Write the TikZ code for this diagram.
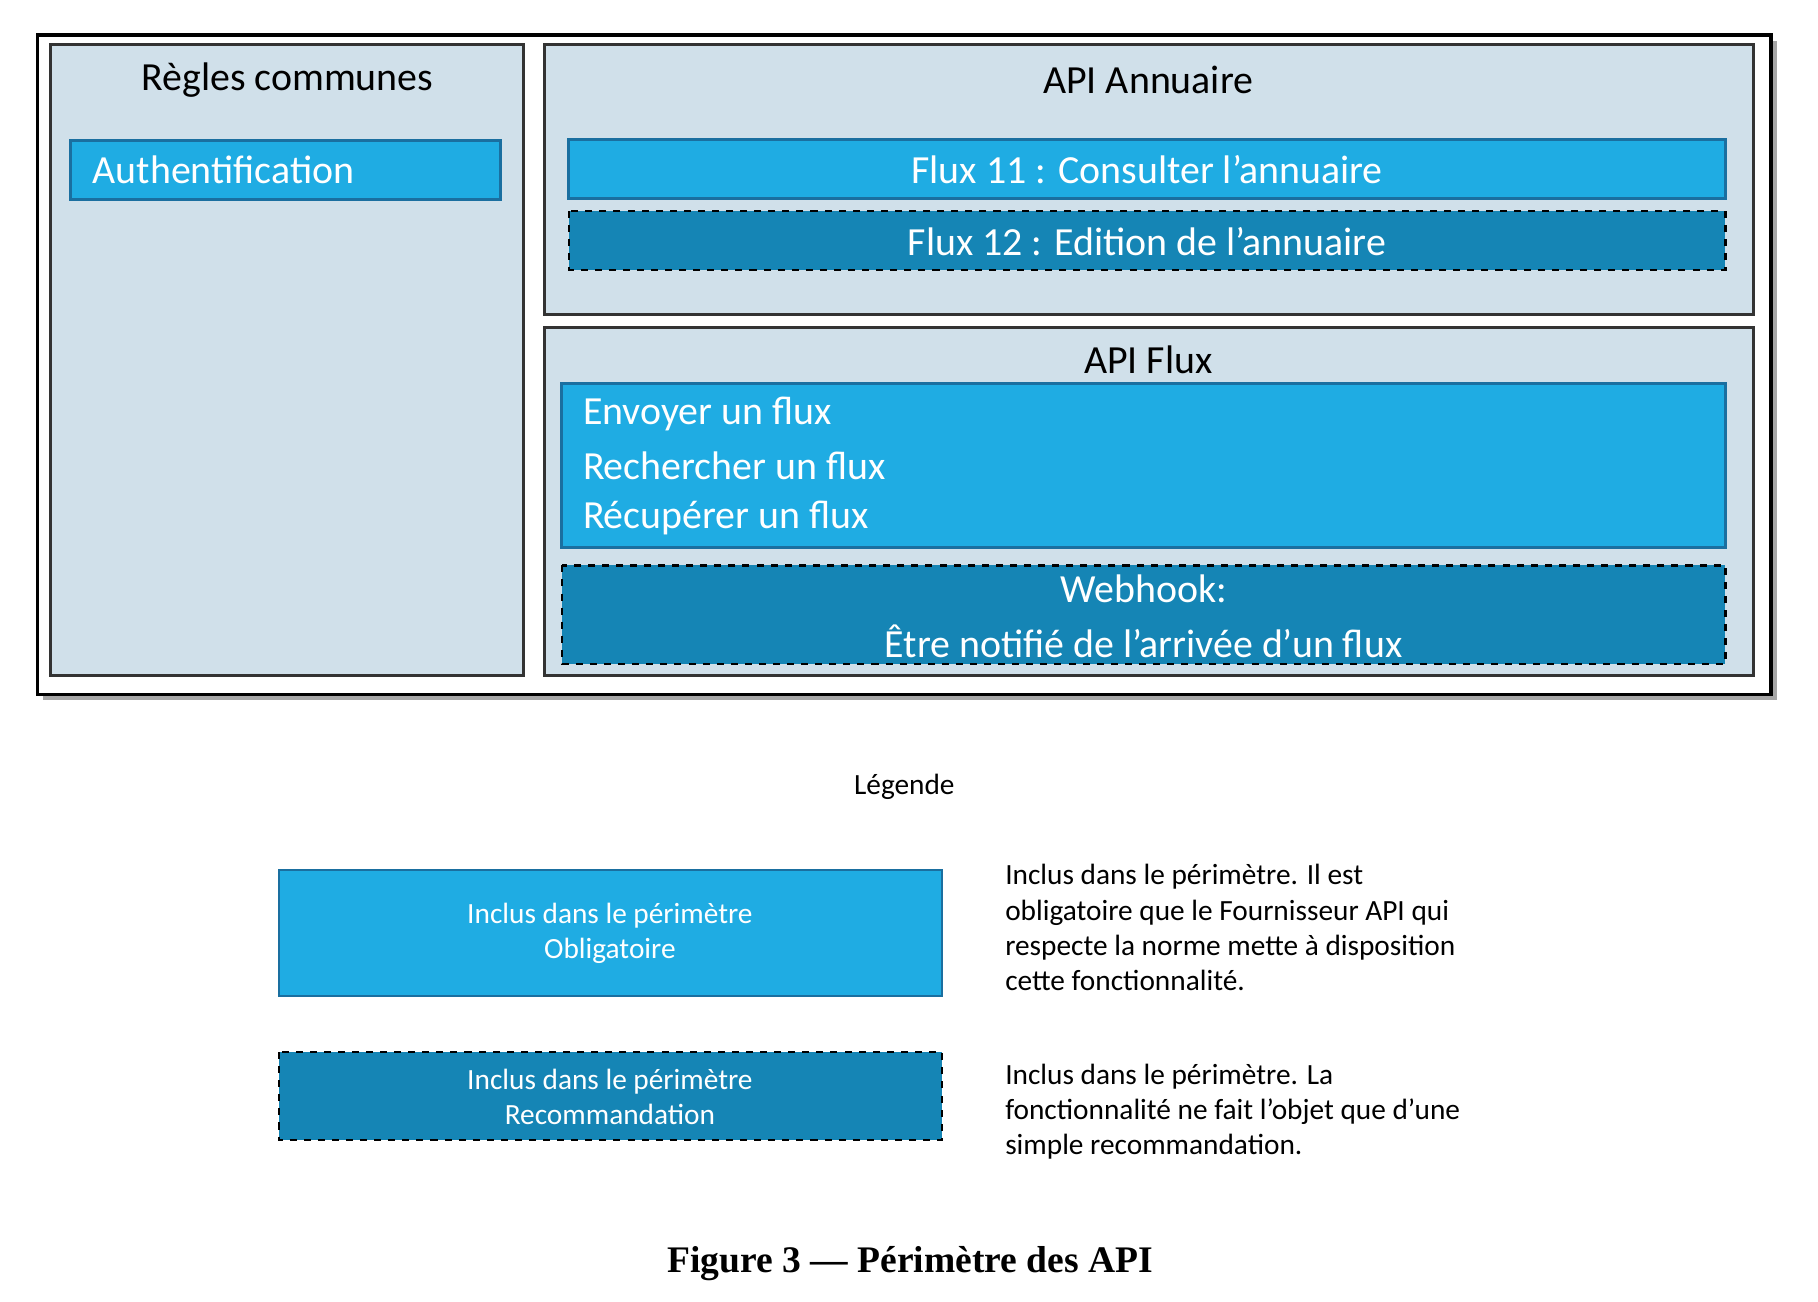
\documentclass[tikz,border=0pt]{standalone}
\usepackage{fontspec}
\setmainfont{Carlito}
\newfontfamily\capfont{Liberation Serif}
\definecolor{panel}{HTML}{D0E0EA}
\definecolor{mand}{HTML}{1FACE3}
\definecolor{reco}{HTML}{1585B5}
\definecolor{edge}{HTML}{1A6FA0}
\begin{document}
\begin{tikzpicture}[x=0.5pt,y=-0.5pt,
 pan/.style={draw=black!80,line width=1.2pt,fill=panel},
 mbox/.style={draw=edge,line width=1.2pt,fill=mand},
 rbox/.style={draw=black,dashed,line width=1pt,fill=reco},
 big/.style={font=\fontsize{17}{20}\selectfont},
 wt/.style={big,text=white},
 leg/.style={font=\fontsize{12.5}{15}\selectfont},
 legw/.style={leg,text=white,align=center}]
\useasboundingbox (0,0) rectangle (1550,1110);
\fill[black!35] (37,35) rectangle (1515,597);
\draw[line width=1.6pt,fill=white] (32,30) rectangle (1510,592);
\draw[pan] (43,38) rectangle (446,576);
\node[big] (t1) at (245,68) {Règles communes};
\draw[mbox] (60,120) rectangle (427,170);
\node[wt,anchor=west] (auth) at (72,145) {Authentification};
\draw[pan] (464,38) rectangle (1495,268);
\node[big] (t2) at (979,68) {API Annuaire};
\draw[mbox] (485,119) rectangle (1471,169);
\node[wt] (f11) at (978,145) {Flux 11 : Consulter l’annuaire};
\draw[rbox] (485,180) rectangle (1471,230);
\node[wt] (f12) at (978,206) {Flux 12 : Edition de l’annuaire};
\draw[pan] (464,279) rectangle (1495,576);
\node[big] (t3) at (979,307) {API Flux};
\draw[mbox] (479,327) rectangle (1471,467);
\node[wt,anchor=west] (e1) at (490,353) {Envoyer un flux};
\node[wt,anchor=west] (e2) at (490,397) {Rechercher un flux};
\node[wt,anchor=west] (e3) at (490,442) {Récupérer un flux};
\draw[rbox] (479,482) rectangle (1471,566);
\node[wt] (w1) at (975,502) {Webhook:};
\node[wt] (w2) at (975,547) {Être notifié de l’arrivée d’un flux};
\node[leg] (lg) at (771,671) {Légende};
\draw[mbox,line width=1pt] (238,742) rectangle (803,849);
\node[legw] (l1) at (520,796) {Inclus dans le périmètre\\Obligatoire};
\draw[rbox] (238,897) rectangle (803,972);
\node[legw] (l2) at (520,935) {Inclus dans le périmètre\\Recommandation};
\node[leg,anchor=north west,align=left] (d1) at (850,730) {Inclus dans le périmètre. Il est\\obligatoire que le Fournisseur API qui\\respecte la norme mette à disposition\\cette fonctionnalité.};
\node[leg,anchor=north west,align=left] (d2) at (850,900) {Inclus dans le périmètre. La\\fonctionnalité ne fait l’objet que d’une\\simple recommandation.};
\node[font=\capfont\bfseries\fontsize{16}{19}\selectfont] (cap) at (776,1077) {Figure 3 — Périmètre des API};
\end{tikzpicture}
\end{document}
